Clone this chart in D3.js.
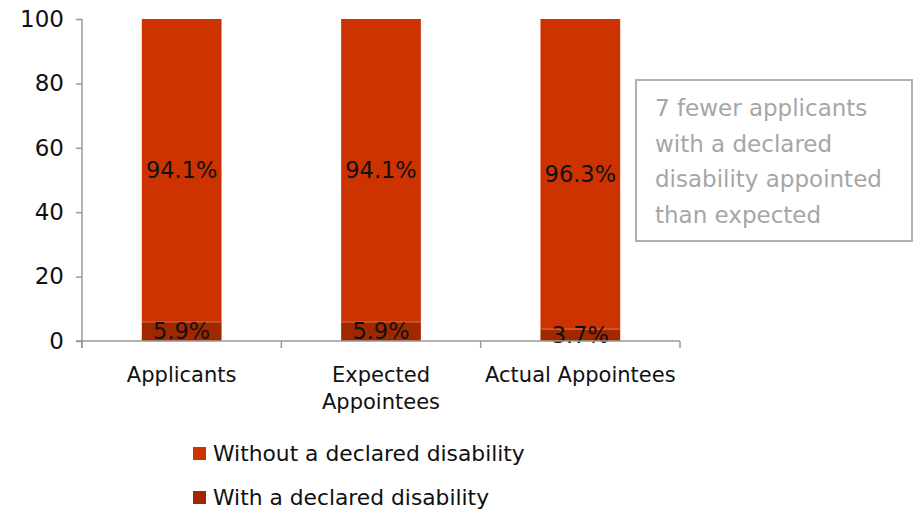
<!DOCTYPE html>
<html lang="en">
<head>
    <meta charset="UTF-8">
    <title>Disability declaration</title>
    <script src="https://d3js.org/d3.v7.min.js"></script>
    <style>
        body{margin:0;background:#fff;}
        text{font-family:"DejaVu Sans",sans-serif;}
    </style>
</head>
<body>
    <svg></svg>
    <script>
        // chart data
        var categories = [["Applicants"], ["Expected", "Appointees"], ["Actual Appointees"]];
        var withDisability = [5.9, 5.9, 3.7];
        var withoutDisability = [94.1, 94.1, 96.3];
        var seriesNames = ["Without a declared disability", "With a declared disability"];
        var seriesColors = ["#cc3300", "#a02800"];
        var yTicks = [0, 20, 40, 60, 80, 100];
        var noteLines = ["7 fewer applicants", "with a declared", "disability appointed", "than expected"];

        var width = 918, height = 512;
        var svg = d3.select("svg").attr("width", width).attr("height", height);

        var x = d3.scaleBand().domain(d3.range(categories.length)).range([82, 680]).paddingInner(0.6).paddingOuter(0.3);
        var xOuter = d3.scaleBand().domain(d3.range(categories.length)).range([82, 680]);
        var y = d3.scaleLinear().domain([0, 100]).range([341, 19]);

        // bars - bottom segment then top segment
        var g = svg.append("g");
        g.selectAll("rect.with").data(withDisability).enter().append("rect")
            .attr("class", "with")
            .attr("x", function(d, i){ return x(i); })
            .attr("width", x.bandwidth())
            .attr("y", function(d){ return y(d); })
            .attr("height", function(d){ return y(0) - y(d); })
            .attr("fill", seriesColors[1]);
        g.selectAll("rect.without").data(withoutDisability).enter().append("rect")
            .attr("class", "without")
            .attr("x", function(d, i){ return x(i); })
            .attr("width", x.bandwidth())
            .attr("y", function(d, i){ return y(withDisability[i] + d); })
            .attr("height", function(d, i){ return y(withDisability[i]) - y(withDisability[i] + d); })
            .attr("fill", seriesColors[0]);
        // thin separator line between segments
        g.selectAll("line.sep").data(withDisability).enter().append("line")
            .attr("x1", function(d, i){ return x(i); })
            .attr("x2", function(d, i){ return x(i) + x.bandwidth(); })
            .attr("y1", function(d){ return y(d); })
            .attr("y2", function(d){ return y(d); })
            .attr("stroke", "#e07050").attr("stroke-width", 1);

        // data labels
        g.selectAll("text.lw").data(withoutDisability).enter().append("text")
            .attr("x", function(d, i){ return x(i) + x.bandwidth() / 2; })
            .attr("y", function(d, i){ return (y(withDisability[i] + d) + y(withDisability[i])) / 2; })
            .attr("dy", "0.35em").attr("text-anchor", "middle")
            .attr("font-size", 22.5).attr("fill", "#111")
            .text(function(d){ return d.toFixed(1) + "%"; });
        g.selectAll("text.lwi").data(withDisability).enter().append("text")
            .attr("x", function(d, i){ return x(i) + x.bandwidth() / 2; })
            .attr("y", function(d){ return (y(d) + y(0)) / 2; })
            .attr("dy", "0.35em").attr("text-anchor", "middle")
            .attr("font-size", 22.5).attr("fill", "#111")
            .text(function(d){ return d.toFixed(1) + "%"; });

        // y axis
        var yAxis = svg.append("g").attr("transform", "translate(82,0)")
            .call(d3.axisLeft(y).tickValues(yTicks).tickSize(6).tickPadding(12));
        yAxis.select(".domain").attr("stroke", "#9a9a9a").attr("stroke-width", 1.5).attr("d", "M0,19V348");
        yAxis.selectAll(".tick line").attr("stroke", "#9a9a9a").attr("stroke-width", 1.5);
        yAxis.selectAll(".tick text").attr("font-size", 23).attr("fill", "#111")
            .style("font-family", "'DejaVu Sans', sans-serif");

        // x axis line and boundary ticks
        var xg = svg.append("g");
        xg.append("line").attr("x1", 76).attr("x2", 680).attr("y1", y(0)).attr("y2", y(0))
            .attr("stroke", "#9a9a9a").attr("stroke-width", 1.5);
        var bounds = d3.range(categories.length + 1).map(function(i){
            return i < categories.length ? xOuter(i) : xOuter(i - 1) + xOuter.bandwidth();
        });
        xg.selectAll("line.bt").data(bounds).enter().append("line")
            .attr("x1", function(d){ return d; }).attr("x2", function(d){ return d; })
            .attr("y1", y(0)).attr("y2", y(0) + 7)
            .attr("stroke", "#9a9a9a").attr("stroke-width", 1.5);
        xg.selectAll("text.cat").data(categories).enter().append("text")
            .attr("text-anchor", "middle").attr("font-size", 21).attr("fill", "#111")
            .attr("x", function(d, i){ return x(i) + x.bandwidth() / 2; })
            .attr("y", 382)
            .each(function(d){
                var t = d3.select(this);
                d.forEach(function(line, k){
                    t.append("tspan").attr("x", t.attr("x")).attr("dy", k === 0 ? 0 : 27).text(line);
                });
            });

        // legend
        var legend = svg.append("g");
        legend.selectAll("g").data(seriesNames).enter().append("g")
            .attr("transform", function(d, i){ return "translate(193," + (447 + i * 44) + ")"; })
            .each(function(d, i){
                var lg = d3.select(this);
                lg.append("rect").attr("width", 13).attr("height", 13).attr("fill", seriesColors[i]);
                lg.append("text").attr("x", 20).attr("y", 14).attr("font-size", 21.8).attr("fill", "#111").text(d);
            });

        // annotation box
        var note = svg.append("g");
        note.append("rect").attr("x", 636).attr("y", 80).attr("width", 276).attr("height", 161)
            .attr("fill", "#fff").attr("stroke", "#b0b0b0").attr("stroke-width", 2);
        note.selectAll("text").data(noteLines).enter().append("text")
            .attr("x", 655).attr("y", function(d, i){ return 116 + i * 35.5; })
            .attr("font-size", 23).attr("fill", "#a6a6a6").text(function(d){ return d; });
    </script>
</body>
</html>
